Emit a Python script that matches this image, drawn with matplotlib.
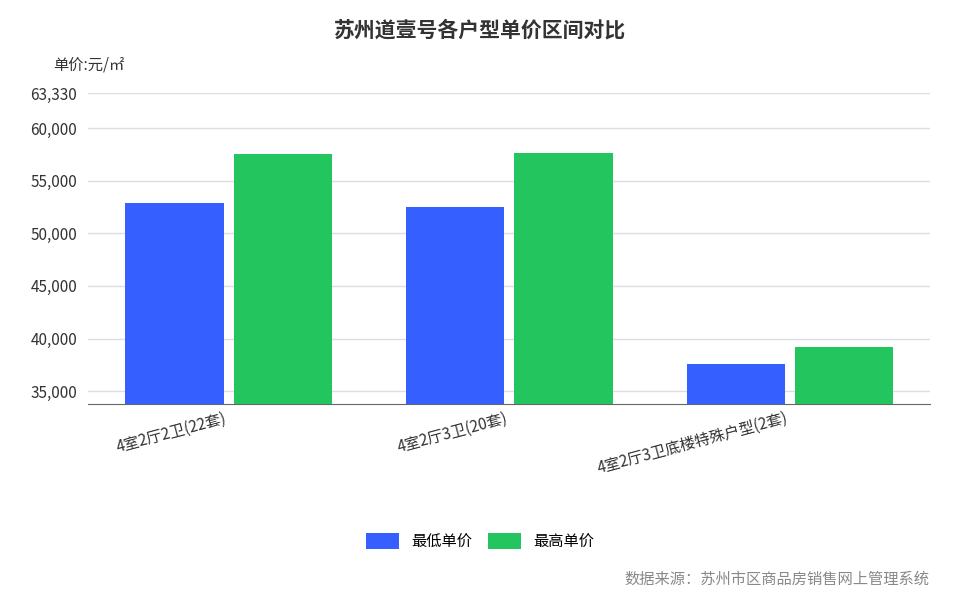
import matplotlib
matplotlib.use("Agg")
import matplotlib.pyplot as plt
import numpy as np

plt.rcParams['font.family'] = ['Noto Sans CJK SC', 'DejaVu Sans']

categories = ["4室2厅2卫(22套)", "4室2厅3卫(20套)", "4室2厅3卫底楼特殊户型(2套)"]
min_price = [52900, 52520, 37570]
max_price = [57570, 57600, 39190]
yticks = [35000, 40000, 45000, 50000, 55000, 60000, 63330]

fig = plt.figure(figsize=(9.6, 6.05), dpi=100)
ax = fig.add_axes([0.092, 0.332, 0.877, 0.514])
x = np.arange(len(categories))
w = 0.35
ax.bar(x - w/2 - 0.018, min_price, w, color="#3560FF", label="最低单价", zorder=3)
ax.bar(x + w/2 + 0.018, max_price, w, color="#22C55E", label="最高单价", zorder=3)
ax.set_xlim(-0.5, 2.5)
ax.set_ylim(33760, 63330)
ax.set_yticks(yticks)
ax.set_yticklabels([f"{v:,}" for v in yticks], fontsize=11, color="#333333")
ax.yaxis.grid(True, color="#DDDDE6", linewidth=1, zorder=0)
ax.tick_params(axis='y', length=0, pad=8)
ax.set_xticks(x)
ax.set_xticklabels(categories, rotation=15, ha="right", fontsize=11, color="#333333")
ax.tick_params(axis='x', length=0, pad=4)
for s in ["top", "right", "left"]:
    ax.spines[s].set_visible(False)
ax.spines["bottom"].set_color("#666666")

fig.text(0.5, 0.94, "苏州道壹号各户型单价区间对比", ha="center", fontsize=15, fontweight="bold", color="#333333")
fig.text(0.055, 0.885, "单价:元/㎡", fontsize=11, color="#333333")
fig.legend(loc="center", bbox_to_anchor=(0.5, 0.105), ncol=2, frameon=False, fontsize=11,
           handlelength=2.2, handleheight=1.2, columnspacing=1.0)
fig.text(0.968, 0.035, "数据来源：苏州市区商品房销售网上管理系统", ha="right", fontsize=11, color="#888888")
fig.savefig("out.png", dpi=100)
